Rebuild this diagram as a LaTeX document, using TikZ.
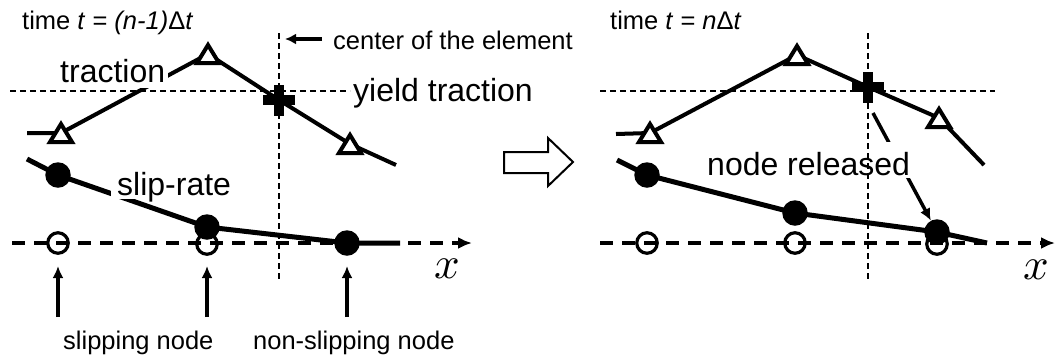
\documentclass[tikz,border=0pt]{standalone}
\usepackage{graphicx}
\usepackage{fontspec}
\setmainfont{Liberation Sans}
\usetikzlibrary{arrows.meta}
\begin{document}
\begin{tikzpicture}[x=1pt,y=-1pt,
  guide/.style={line width=1.2pt, dash pattern=on 6pt off 4pt},
  axisline/.style={line width=4pt, dash pattern=on 13pt off 9pt, -{Latex[length=14pt,width=12pt]}},
  tracline/.style={line width=4pt, line join=round},
  slipline/.style={line width=5pt, line join=round},
  bigtxt/.style={font=\fontsize{32}{38}\selectfont, inner sep=0pt, anchor=base west},
  smalltxt/.style={font=\fontsize{25.5}{30}\selectfont, inner sep=0pt, anchor=base west},
  xlbl/.style={font=\normalsize, inner sep=0pt},
  dot/.style={circle, fill=black, minimum size=25.5pt, inner sep=0pt},
  ring/.style={circle, draw=black, line width=3.2pt, minimum size=20.5pt, inner sep=0pt},
  pointer/.style={line width=3.5pt, -{Latex[length=12pt,width=11pt]}},
  tri/.pic={\filldraw[fill=white, line width=4pt] (0,-9) -- (11,9) -- (-11,9) -- cycle;},
  plusmark/.pic={\fill (-16,-5) rectangle (16,5); \fill (-5,-15.5) rectangle (5,15.5);},
]
\path[use as bounding box, fill=white] (0,0) rectangle (1056,360);

% ---------- data points, step n-1 ----------
\coordinate (lt0) at (27,133);
\coordinate (lt1) at (61,133);
\coordinate (lt2) at (208,54);
\coordinate (lc)  at (279,100);
\coordinate (lt3) at (350,144);
\coordinate (lt4) at (396,165);
\coordinate (ls0) at (27,159);
\coordinate (ls1) at (58,175);
\coordinate (ls2) at (207,227);
\coordinate (ls3) at (347,243);
\coordinate (ls4) at (400,243);
% ---------- data points, step n ----------
\coordinate (rt0) at (616,134);
\coordinate (rt1) at (650,133);
\coordinate (rt2) at (797,55);
\coordinate (rc)  at (868,87);
\coordinate (rt3) at (939,118);
\coordinate (rt4) at (984,165);
\coordinate (rs0) at (617,160);
\coordinate (rs1) at (647,175);
\coordinate (rs2) at (795,213);
\coordinate (rs3) at (937,232);
\coordinate (rs4) at (987,243);

% ---------- x axes ----------
\coordinate (lax0) at (12,243);
\coordinate (lax1) at (472,243);
\coordinate (rax0) at (600,243);
\coordinate (rax1) at (1055,243);
\draw[axisline] (lax0) -- (lax1);
\draw[axisline] (rax0) -- (rax1);

% nodes at rest (open circles)
\node[ring] (lo1) at (58,243) {};
\node[ring] (lo2) at (207,244) {};
\node[ring] (ro1) at (647,243) {};
\node[ring] (ro2) at (795,243) {};
\node[ring] (ro3) at (937,244) {};

% ---------- traction and slip-rate curves ----------
\draw[tracline] (lt0) -- (lt1) -- (lt2) -- (lc) -- (lt3) -- (lt4);
\draw[slipline] (ls0) -- (ls1) -- (ls2) -- (ls3) -- (ls4);
\draw[tracline] (rt0) -- (rt1) -- (rt2) -- (rc) -- (rt3) -- (rt4);
\draw[slipline] (rs0) -- (rs1) -- (rs2) -- (rs3) -- (rs4);

% markers
\pic at (lt1) {tri};
\pic at (lt2) {tri};
\pic at (lt3) {tri};
\pic at (lc) {plusmark};
\pic at (rt1) {tri};
\pic at (rt2) {tri};
\pic at (rt3) {tri};
\pic at (rc) {plusmark};
\node[dot] (ld1) at (ls1) {};
\node[dot] (ld2) at (ls2) {};
\node[dot] (ld3) at (ls3) {};
\node[dot] (rd1) at (rs1) {};
\node[dot] (rd2) at (rs2) {};
\node[dot] (rd3) at (rs3) {};

% leader to the released node
\coordinate (rlead) at (873,113);
\draw[pointer] (rlead) -- (rd3);

% labels that mask the curves behind them
\node[bigtxt, fill=white, inner xsep=3pt, inner ysep=6pt] (ltrac) at (57,82) {traction};
\node[bigtxt, fill=white, inner xsep=6pt, inner ysep=3.5pt, text depth=0pt] (lslip) at (111,195) {slip-rate};
\node[bigtxt, fill=white, inner xsep=3pt, inner ysep=3pt, text height=30pt, text depth=0pt] (rrel) at (704,175) {node released};

% ---------- guide lines ----------
\coordinate (lv0) at (279,33);
\coordinate (lv1) at (279,280);
\coordinate (lh0) at (10,91);
\coordinate (lh1) at (350,91);
\coordinate (rv0) at (868,33);
\coordinate (rv1) at (868,280);
\coordinate (rh0) at (600,91);
\coordinate (rh1) at (995,91);
\draw[guide] (lv0) -- (lv1);
\draw[guide] (lh0) -- (lh1);
\draw[guide] (rv0) -- (rv1);
\draw[guide] (rh0) -- (rh1);

% ---------- other labels ----------
\node[smalltxt] (ltime) at (22,29) {time \textit{t} = \textit{(n-1)}Δ\textit{t}};
\node[smalltxt] (rtime) at (610,29) {time \textit{t} = \textit{n}Δ\textit{t}};
\node[smalltxt] (center) at (333,49) {center of the element};
\coordinate (ca0) at (322,39);
\coordinate (ca1) at (285,39);
\draw[pointer, -{Latex[length=11pt,width=11pt]}] (ca0) -- (ca1);
\node[bigtxt] (yield) at (353,101) {yield traction};

\node[xlbl] (lx) at (447,269) {\scalebox{4.5}{$x$}};
\node[xlbl] (rx) at (1036,270) {\scalebox{4.5}{$x$}};

\node[smalltxt] (slipn) at (63,349) {slipping node};
\node[smalltxt] (nslipn) at (253,349) {non-slipping node};
\coordinate (ua0) at (58,317);
\coordinate (ua1) at (58,266);
\coordinate (ub0) at (207,317);
\coordinate (ub1) at (207,266);
\coordinate (uc0) at (347,317);
\coordinate (uc1) at (347,266);
\draw[pointer] (ua0) -- (ua1);
\draw[pointer] (ub0) -- (ub1);
\draw[pointer] (uc0) -- (uc1);

% ---------- hollow arrow between the two steps ----------
\draw[line width=2pt, fill=white] (504,152) -- (548,152) -- (548,138) -- (573,162)
  -- (548,186) -- (548,173) -- (504,173) -- cycle;
\end{tikzpicture}
\end{document}
